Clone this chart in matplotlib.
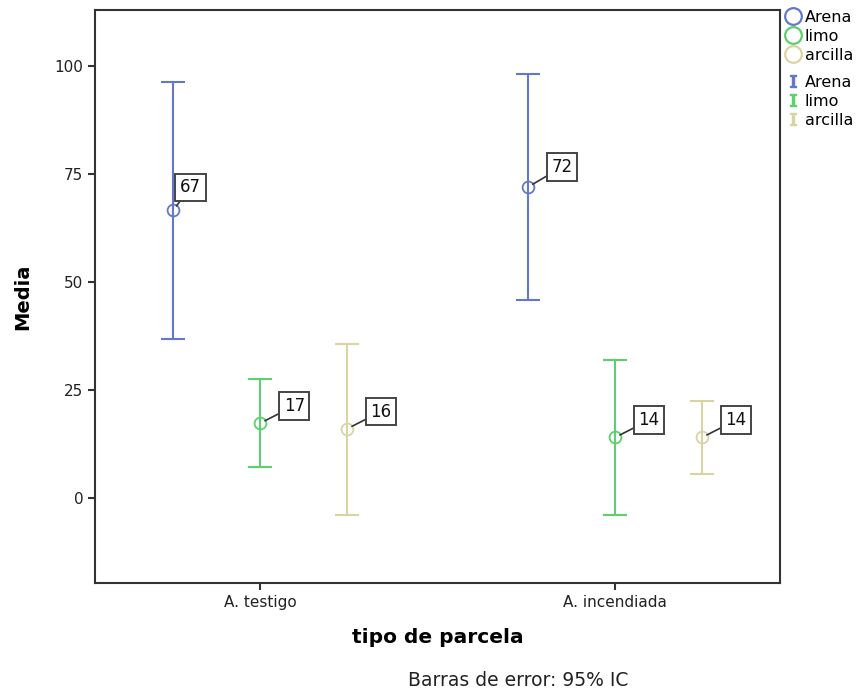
import matplotlib
matplotlib.use("Agg")
import matplotlib.pyplot as plt
from matplotlib.lines import Line2D

# Data: mean and 95% CI bounds per soil fraction and plot type
parcelas = ["A. testigo", "A. incendiada"]
fracciones = ["Arena", "limo", "arcilla"]
media = {
    "Arena":   [66.6, 72.0],
    "limo":    [17.3, 14.0],
    "arcilla": [16.0, 14.0],
}
ic_sup = {
    "Arena":   [96.4, 98.1],
    "limo":    [27.5, 31.9],
    "arcilla": [35.6, 22.5],
}
ic_inf = {
    "Arena":   [36.7, 45.8],
    "limo":    [7.1, -3.9],
    "arcilla": [-3.9, 5.6],
}
yticks = [0, 25, 50, 75, 100]

colores = {"Arena": "#6477cf", "limo": "#5ccf6e", "arcilla": "#d9d5a3"}
desplaz = {"Arena": -0.245, "limo": 0.0, "arcilla": 0.245}
# label box offsets (points) relative to each mean marker
offs = {
    "Arena":   [(5, 10), (17, 8)],
    "limo":    [(17, 6), (17, 6)],
    "arcilla": [(17, 6), (17, 6)],
}

plt.rcParams["font.family"] = ["DejaVu Sans"]

fig = plt.figure(figsize=(8.64, 6.9), dpi=100)
ax = fig.add_axes([95 / 864, 1 - 583 / 690, (780 - 95) / 864, (583 - 10) / 690])

for f in fracciones:
    c = colores[f]
    for i in range(len(parcelas)):
        x = i + desplaz[f]
        m = media[f][i]
        ax.errorbar([x], [m],
                    yerr=[[m - ic_inf[f][i]], [ic_sup[f][i] - m]],
                    fmt="none", ecolor=c, elinewidth=1.5, capsize=8.5, capthick=1.5,
                    zorder=2)
        ax.plot([x], [m], marker="o", markersize=8.5, markerfacecolor="none",
                markeredgecolor=c, markeredgewidth=1.3, linestyle="none", zorder=3)
        ax.annotate(f"{m:.0f}", xy=(x, m), xytext=offs[f][i],
                    textcoords="offset points", ha="left", va="bottom",
                    fontsize=12, color="#111111",
                    bbox=dict(boxstyle="square,pad=0.28", fc="white",
                              ec="#444444", lw=1.4),
                    arrowprops=dict(arrowstyle="-", color="#333333", lw=1.2,
                                    shrinkA=0, shrinkB=4),
                    zorder=4)

ax.set_xlim(-0.465, 1.465)
ax.set_ylim(-19.7, 113)
ax.set_xticks(range(len(parcelas)))
ax.set_xticklabels(parcelas)
ax.set_yticks(yticks)
ax.tick_params(axis="both", labelsize=11, colors="#333333", length=5, width=1.5)
ax.tick_params(axis="both", labelcolor="#222222")
for s in ax.spines.values():
    s.set_linewidth(1.5)
    s.set_color("#333333")

ax.set_ylabel("Media", fontsize=14, fontweight="bold", labelpad=16)
ax.set_xlabel("tipo de parcela", fontsize=14.5, fontweight="bold", labelpad=13)
fig.text(518 / 864, 1 - 681 / 690, "Barras de error: 95% IC", ha="center",
         va="center", fontsize=13.5, color="#222222")

# legend: marker entries, then error-bar entries
h_mark = [Line2D([], [], marker="o", markersize=12, markerfacecolor="none",
                 markeredgecolor=colores[f], markeredgewidth=1.6, linestyle="none")
          for f in fracciones]
h_err = [Line2D([], [], marker="$\\mathtt{I}$", markersize=9,
                color=colores[f], linestyle="none")
         for f in fracciones]
kw = dict(loc="upper left", frameon=False, fontsize=11.5, handletextpad=0.15,
          borderaxespad=0, handlelength=1.2, labelspacing=0.24, borderpad=0)
fig.legend(h_mark, fracciones, bbox_to_anchor=(783 / 864, 1 - 10 / 690), **kw)
fig.legend(h_err, fracciones, bbox_to_anchor=(783 / 864, 1 - 75 / 690), **kw)

fig.savefig("out.png", dpi=100)
